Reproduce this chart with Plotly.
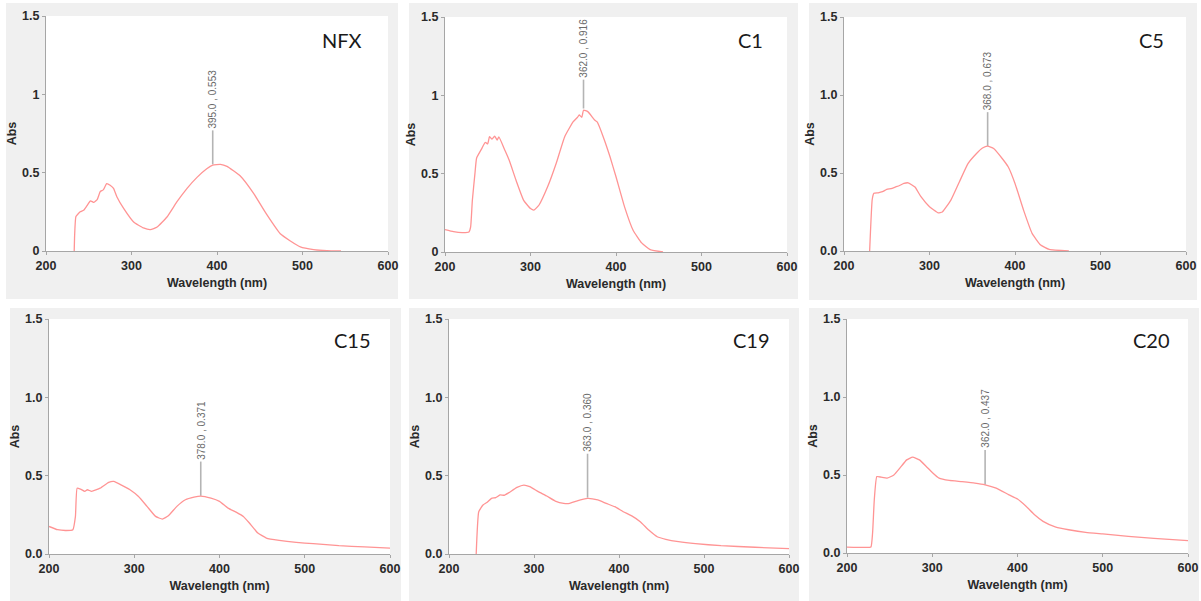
import plotly.graph_objects as go

# ---------------- data ----------------
names = ["NFX", "C1", "C5", "C15", "C19", "C20"]

nfx_x = [233, 233.5, 235, 240, 244, 248, 252, 256, 260, 263.5, 267, 271, 275, 279, 283, 291, 302.5, 314, 322, 330, 341.5,
         353, 365, 376.6, 388, 395, 404, 411.7, 427, 443, 458.5, 474, 485.8, 497.5, 513, 528.6, 545]
nfx_y = [0.0, 0.10, 0.22, 0.25, 0.26, 0.29, 0.32, 0.31, 0.33, 0.38, 0.39, 0.43, 0.42, 0.40, 0.345, 0.27, 0.185, 0.147, 0.136, 0.153, 0.217,
         0.313, 0.40, 0.47, 0.525, 0.548, 0.553, 0.54, 0.48, 0.366, 0.23, 0.11, 0.064, 0.026, 0.009, 0.002, 0.0]

c1_x = [200, 210, 220, 228, 230, 232, 235, 237, 243, 247, 250, 252, 255, 258, 261, 263, 270, 275, 283, 292, 300, 304, 310,
        320, 330, 340, 350, 355, 357, 360, 362, 367, 375, 378, 385, 393, 400, 410, 420, 430, 440, 455]
c1_y = [0.143, 0.13, 0.124, 0.128, 0.16, 0.33, 0.50, 0.60, 0.66, 0.70, 0.69, 0.736, 0.72, 0.74, 0.715, 0.735, 0.65, 0.587, 0.459, 0.33, 0.277, 0.267, 0.30,
        0.416, 0.565, 0.736, 0.832, 0.86, 0.875, 0.86, 0.905, 0.896, 0.843, 0.83, 0.736, 0.608, 0.48, 0.288, 0.139, 0.058, 0.015, 0.0]

c5_x = [230, 233, 235, 240, 245, 250, 255, 260, 265, 270, 275, 283, 290, 300, 310, 315, 325, 335, 345, 355, 362, 368,
        375, 385, 392, 400, 410, 420, 430, 440, 463]
c5_y = [0.0, 0.33, 0.37, 0.373, 0.38, 0.395, 0.40, 0.41, 0.42, 0.433, 0.437, 0.41, 0.348, 0.284, 0.245, 0.25, 0.326, 0.444, 0.56, 0.625, 0.66, 0.672,
        0.657, 0.593, 0.54, 0.433, 0.262, 0.113, 0.038, 0.01, 0.0]

c15_x = [200, 210, 220, 228, 231, 233, 237, 242, 245, 250, 260, 270, 276, 285, 295, 305, 315, 325, 333, 340, 350, 360,
         370, 378, 390, 400, 410, 420, 428, 435, 445, 455, 470, 490, 510, 540, 570, 600]
c15_y = [0.176, 0.155, 0.15, 0.155, 0.24, 0.42, 0.414, 0.40, 0.41, 0.40, 0.42, 0.457, 0.463, 0.44, 0.41, 0.367, 0.304, 0.24, 0.223, 0.244, 0.304, 0.346,
         0.363, 0.37, 0.357, 0.336, 0.293, 0.266, 0.24, 0.198, 0.134, 0.102, 0.087, 0.074, 0.066, 0.053, 0.045, 0.038]

c19_x = [232, 235, 240, 245, 250, 255, 260, 265, 270, 280, 288, 295, 305, 315, 325, 335, 342, 350, 363, 375, 385, 395,
         405, 415, 425, 435, 445, 455, 470, 490, 520, 560, 600]
c19_y = [0.0, 0.27, 0.313, 0.33, 0.355, 0.36, 0.377, 0.375, 0.39, 0.425, 0.44, 0.43, 0.398, 0.37, 0.338, 0.323, 0.323, 0.338, 0.355, 0.345, 0.323, 0.302,
         0.27, 0.243, 0.206, 0.153, 0.11, 0.094, 0.079, 0.066, 0.053, 0.043, 0.034]

c20_x = [200, 220, 228, 230, 232, 235, 240, 247, 255, 262, 270, 277, 285, 293, 300, 308, 320, 335, 350, 362, 375, 390,
         400, 410, 420, 430, 445, 460, 480, 500, 530, 560, 600]
c20_y = [0.038, 0.036, 0.038, 0.128, 0.34, 0.49, 0.486, 0.48, 0.50, 0.544, 0.597, 0.614, 0.597, 0.555, 0.516, 0.48, 0.465, 0.457, 0.448, 0.437, 0.416, 0.373,
         0.346, 0.30, 0.245, 0.203, 0.166, 0.149, 0.132, 0.122, 0.107, 0.094, 0.079]

peak_x = [395.0, 362.0, 368.0, 378.0, 363.0, 362.0]
peak_y = [0.553, 0.916, 0.673, 0.371, 0.360, 0.437]

y_tickvals = [0, 0.5, 1.0, 1.5]
y_ticktext_short = ["0", "0.5", "1", "1.5"]
y_ticktext_long = ["0.0", "0.5", "1.0", "1.5"]
x_tickvals = [200, 300, 400, 500, 600]

series_x = [nfx_x, c1_x, c5_x, c15_x, c19_x, c20_x]
series_y = [nfx_y, c1_y, c5_y, c15_y, c19_y, c20_y]

# ---------------- layout / style ----------------
W, H = 1201, 601
# plot areas in pixels: (left, top, right, bottom)
plot_px = [(46, 16, 388, 251), (445, 17, 787, 252), (844, 17, 1186, 251),
           (49, 319, 390, 554), (449, 319, 789, 554), (847, 319, 1188, 553)]
# grey panel boxes in pixels
panel_px = [(6, 3, 398, 299), (409, 3, 798, 299), (809, 3, 1197, 300),
            (10, 308, 401, 601), (409, 308, 799, 601), (809, 308, 1199, 601)]
# top of the grey peak marker line (data units)
marker_top = [0.77, 1.10, 0.89, 0.59, 0.64, 0.66]
# right edge / centre of panel labels in pixels
label_px = [(364, 40), (765, 40), (1166, 40), (373, 340), (772, 340), (1172, 340)]
short_ticks = [True, True, False, False, False, False]

LINE = "#ff9494"
GREY = "#f0f0f0"
AXIS = "#a6a6a6"
TICKFONT = dict(family="Liberation Sans Narrow, Arial Narrow, Liberation Sans, Arial", size=12.5, color="#2a2a2a", weight="bold")

fig = go.Figure()
shapes = []
annotations = []

for i in range(6):
    l, t, r, b = plot_px[i]
    pl, pt, pr, pb = panel_px[i]
    shapes.append(dict(type="rect", xref="paper", yref="paper", x0=pl / W, x1=pr / W,
                       y0=1 - pb / H, y1=1 - pt / H, fillcolor=GREY, line=dict(width=0), layer="below"))
    shapes.append(dict(type="rect", xref="paper", yref="paper", x0=l / W, x1=r / W,
                       y0=1 - b / H, y1=1 - t / H, fillcolor="white", line=dict(width=0), layer="below"))

    ax = "" if i == 0 else str(i + 1)
    xa, ya = "x" + ax, "y" + ax

    fig.add_trace(go.Scatter(x=[peak_x[i], peak_x[i]], y=[peak_y[i], marker_top[i]], mode="lines",
                             line=dict(color="#b4b4b4", width=1.6), xaxis=xa, yaxis=ya,
                             showlegend=False, hoverinfo="skip"))
    fig.add_trace(go.Scatter(x=series_x[i], y=series_y[i], mode="lines", name=names[i],
                             line=dict(color=LINE, width=1.3, shape="spline", smoothing=0.4),
                             xaxis=xa, yaxis=ya, showlegend=False))

    annotations.append(dict(xref=xa, yref=ya, x=peak_x[i], y=marker_top[i],
                            text=f"{peak_x[i]:.1f} , {peak_y[i]:.3f}", textangle=-90,
                            xanchor="center", yanchor="bottom", showarrow=False,
                            font=dict(family="Liberation Sans, Arial", size=10, color="#6a6a6a")))
    lx, ly = label_px[i]
    annotations.append(dict(xref="paper", yref="paper", x=lx / W, y=1 - ly / H, text=names[i],
                            xanchor="right", yanchor="middle", showarrow=False,
                            font=dict(family="Lato, Noto Sans, sans-serif", size=20, color="#1a1a1a")))

    xkey = "xaxis" + ax
    ykey = "yaxis" + ax
    fig.update_layout(**{
        xkey: dict(domain=[l / W, r / W], anchor=ya, range=[200, 600], tickvals=x_tickvals,
                   showgrid=False, zeroline=False, showline=True, linecolor=AXIS, linewidth=1,
                   ticks="outside", ticklen=3, tickcolor=AXIS, tickfont=TICKFONT, fixedrange=True,
                   automargin=False,
                   title=dict(text="Wavelength (nm)", font=TICKFONT, standoff=6)),
        ykey: dict(domain=[1 - b / H, 1 - t / H], anchor=xa, range=[0, 1.5], tickvals=y_tickvals,
                   ticktext=y_ticktext_short if short_ticks[i] else y_ticktext_long,
                   showgrid=False, zeroline=False, showline=True, linecolor=AXIS, linewidth=1,
                   ticks="outside", ticklen=3, tickcolor=AXIS, tickfont=TICKFONT, fixedrange=True,
                   automargin=False,
                   title=dict(text="Abs", font=TICKFONT, standoff=2)),
    })

fig.update_layout(width=W, height=H, margin=dict(l=0, r=0, t=0, b=0, pad=0, autoexpand=False),
                  paper_bgcolor="white", plot_bgcolor="rgba(0,0,0,0)",
                  shapes=shapes, annotations=annotations, showlegend=False)

fig.write_html("out.html", config={"displayModeBar": False})
